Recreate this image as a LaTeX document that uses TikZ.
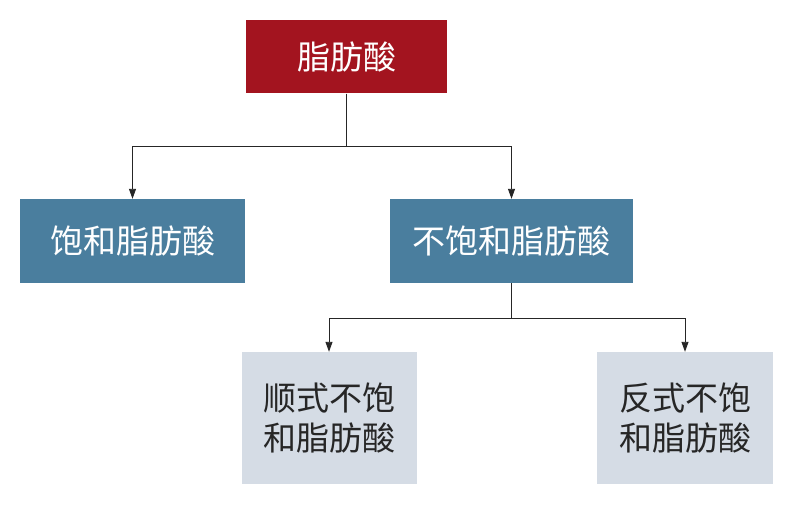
\documentclass[tikz,border=0pt]{standalone}
\usepackage{fontspec}
\setmainfont{Noto Sans CJK SC}
\usetikzlibrary{arrows.meta}
\definecolor{fared}{HTML}{A3141F}
\definecolor{fablue}{HTML}{4A7E9E}
\definecolor{fagray}{HTML}{D5DCE5}
\tikzset{
  box/.style={draw=none, inner sep=0pt, font=\fontsize{33}{40}\selectfont, align=center},
  link/.style={draw=black!85, line width=0.9pt, -{Triangle[length=10pt,width=7pt]}}
}

\begin{document}
\begin{tikzpicture}[x=1pt, y=-1pt]
  \useasboundingbox[fill=white] (0,0) rectangle (794,508);

  \node[box, fill=fared, text=white, minimum width=201pt, minimum height=73pt]
    (fa) at (346.5,57) {脂肪酸};
  \node[box, fill=fablue, text=white, minimum width=225pt, minimum height=84pt]
    (sat) at (132.5,241) {饱和脂肪酸};
  \node[box, fill=fablue, text=white, minimum width=243pt, minimum height=84pt]
    (unsat) at (511.5,241) {不饱和脂肪酸};
  \node[box, fill=fagray, text=black!85, minimum width=175pt, minimum height=132pt]
    (cis) at (329,418) {顺式不饱\\和脂肪酸};
  \node[box, fill=fagray, text=black!85, minimum width=176pt, minimum height=132pt]
    (trans) at (685,418) {反式不饱\\和脂肪酸};

  \draw[link] (fa.south) -- (346.5,146) -| (sat.north);
  \draw[link] (fa.south) -- (346.5,146) -| (unsat.north);
  \draw[link] (unsat.south) -- (511.5,318) -| (cis.north);
  \draw[link] (unsat.south) -- (511.5,318) -| (trans.north);

\end{tikzpicture}
\end{document}
